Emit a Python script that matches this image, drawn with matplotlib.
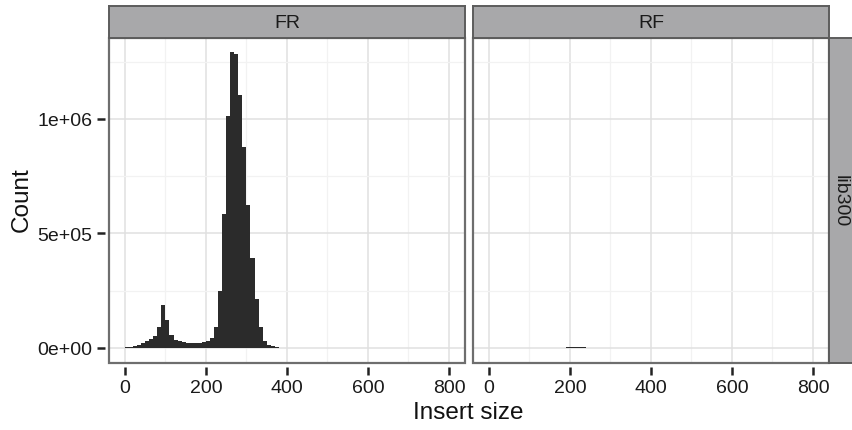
import numpy as np
import matplotlib
matplotlib.use('Agg')
import matplotlib.pyplot as plt
from matplotlib.patches import Rectangle

plt.rcParams['font.family'] = ['Liberation Sans', 'DejaVu Sans']

# histogram bins (insert size, binwidth 10)
binwidth = 10
fr_bins = list(range(0, 390, 10))
fr_counts = [3000, 4000, 8000, 14000, 22000, 29000, 38000, 52000, 92000, 186000,
             120000, 58000, 36000, 29000, 26000, 23000, 23000, 23000, 23000, 26000,
             32000, 44000, 92000, 249000, 586000, 1012000, 1291000, 1284000, 1106000, 877000,
             625000, 392000, 212000, 92000, 29000, 12000, 6000, 3000, 1500]
rf_bins = [190, 200, 210, 220, 230, 240]
rf_counts = [2000, 4000, 4500, 3500, 2000, 1000]

panels = ['FR', 'RF']
row_label = 'lib300'
x_ticks = [0, 200, 400, 600, 800]
y_ticks = [0, 5e5, 1e6]
y_ticklabels = ['0e+00', '5e+05', '1e+06']

W, H = 853, 431
fig = plt.figure(figsize=(W / 100, H / 100), dpi=100)
fig.patch.set_facecolor('white')

strip_fill = '#a8a8aa'
strip_edge = '#5c5c5c'
border = '#6e6e6e'

panel_top, panel_bot = 39, 363.5
lefts = [109.3, 473.3]
pw = 355.7


def fx(px):
    return px / W


def fy(py):
    return 1 - py / H


data = {'FR': (fr_bins, fr_counts), 'RF': (rf_bins, rf_counts)}

for i, name in enumerate(panels):
    ax = fig.add_axes([fx(lefts[i]), fy(panel_bot), pw / W, (panel_bot - panel_top) / H])
    bins, counts = data[name]
    ax.bar(bins, counts, width=binwidth, align='edge', color='#2b2b2b', linewidth=0, zorder=3)
    ax.set_xlim(-38.5, 839.5)
    ax.set_ylim(-64000, 1353000)
    ax.set_xticks(x_ticks)
    ax.set_xticks([100, 300, 500, 700], minor=True)
    ax.set_yticks(y_ticks)
    ax.set_yticks([2.5e5, 7.5e5, 1.25e6], minor=True)
    ax.grid(True, which='major', color='#e0e0e0', linewidth=1.1, zorder=0)
    ax.grid(True, which='minor', color='#f2f2f2', linewidth=0.9, zorder=0)
    ax.set_axisbelow(True)
    for s in ax.spines.values():
        s.set_visible(False)
    ax.spines['left'].set_position(('outward', 3))
    ax.spines['bottom'].set_position(('outward', 3))
    ax.add_patch(Rectangle((0, 0), 1, 1, transform=ax.transAxes, fill=False,
                           edgecolor=border, linewidth=1.6, clip_on=False, zorder=5))
    ax.tick_params(which='minor', length=0)
    ax.tick_params(which='major', length=6, width=1.8, color='#222222',
                   labelsize=14, labelcolor='#1a1a1a', pad=3)
    if i == 0:
        ax.set_yticklabels(y_ticklabels)
    else:
        ax.tick_params(axis='y', left=False, labelleft=False)

    # strip on top
    sax = fig.add_axes([fx(lefts[i]), fy(panel_top), pw / W, (panel_top - 7.3) / H])
    sax.set_xticks([])
    sax.set_yticks([])
    sax.set_facecolor(strip_fill)
    for s in sax.spines.values():
        s.set_color(strip_edge)
        s.set_linewidth(1.4)
    sax.text(0.5, 0.5, name, ha='center', va='center', fontsize=14,
             color='#1a1a1a', transform=sax.transAxes)

# right strip
rax = fig.add_axes([fx(829), fy(panel_bot), 31 / W, (panel_bot - panel_top) / H])
rax.set_xticks([])
rax.set_yticks([])
rax.set_facecolor(strip_fill)
for s in rax.spines.values():
    s.set_color(strip_edge)
    s.set_linewidth(1.4)
fig.text(fx(840.5), fy(201.5), row_label, ha='center', va='center', rotation=-90,
         fontsize=14, color='#1a1a1a', zorder=10)

fig.text(fx(468.5), fy(413), 'Insert size', ha='center', va='center', fontsize=17.5, color='#111111')
fig.text(fx(22), fy(200), 'Count', ha='center', va='center', rotation=90, fontsize=17.5, color='#111111')

fig.savefig('out.png', dpi=100)
